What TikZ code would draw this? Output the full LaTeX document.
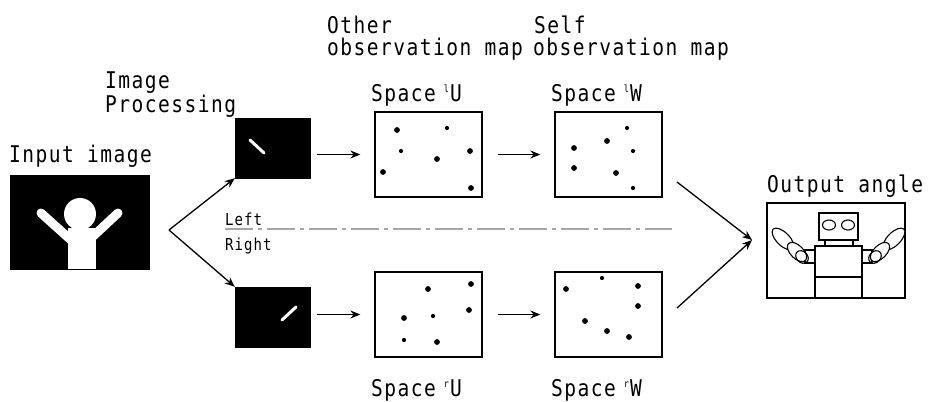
\documentclass[tikz,border=0pt]{standalone}
\usepackage{fontspec}
\setmainfont{DejaVu Sans Mono}[FakeStretch=0.85, LetterSpace=6.4]
\usetikzlibrary{arrows.meta}
\begin{document}
\begin{tikzpicture}[x=1pt,y=-1pt,
  lbl/.style={anchor=base west, inner sep=0pt, font=\fontsize{23}{26}\selectfont},
  tag/.style={anchor=base west, inner sep=0pt, font=\fontsize{16.5}{18}\selectfont},
  frame/.style={draw, line width=1.3pt, inner sep=0pt, minimum width=107pt, minimum height=85pt},
  blackbox/.style={fill=black, draw=black, inner sep=0pt},
  flow/.style={line width=1.3pt, -{Stealth[length=10pt,width=8pt]}},
  part/.style={draw, line width=1.1pt, fill=white},
]
\newcommand{\spacelabel}[2]{Space\hspace{8pt}\raisebox{9pt}{\fontsize{10}{10}\selectfont #1}\hspace{1pt}#2}
\useasboundingbox (0,0) rectangle (930,402);

% --- input image with the person silhouette
\node[blackbox, minimum width=139pt, minimum height=94pt] (input) at (79.5,222) {};
\draw[white, line width=9pt, line cap=round] (41,213) -- (72,241);
\draw[white, line width=9pt, line cap=round] (118,213) -- (88,241);
\fill[white] (68,228) rectangle (96,268.5);
\fill[white] (80,214) circle (16pt);
\node[lbl] (inlbl) at (9,162) {Input image};

% --- image processing results
\node[blackbox, minimum width=75pt, minimum height=60pt] (procL) at (272.5,148) {};
\node[blackbox, minimum width=75pt, minimum height=60pt] (procR) at (272.5,317) {};
\draw[white, line width=3pt, line cap=round] (250,140) -- (264,153);
\draw[white, line width=3pt, line cap=round] (282,320) -- (296,307);
\node[lbl] (imgA) at (105,88) {Image};
\node[lbl] (imgB) at (105,112) {Processing};

% --- fork from the input image
\coordinate (fork) at (169,230);
\draw[flow] (fork) -- (procL.south west);
\draw[flow] (fork) -- (procR.north west);

% --- observation maps
\node[frame] (uU) at (428.5,154.5) {};
\node[frame] (uW) at (608.5,154.5) {};
\node[frame] (lU) at (428.5,314.5) {};
\node[frame] (lW) at (608.5,314.5) {};

\draw[flow] ([xshift=7pt]procL.east |- uU.west) -- ([xshift=-14pt]uU.west);
\draw[flow] ([xshift=7pt]procR.east |- lU.west) -- ([xshift=-14pt]lU.west);
\draw[flow] ([xshift=15pt]uU.east) -- ([xshift=-14pt]uW.west);
\draw[flow] ([xshift=15pt]lU.east) -- ([xshift=-14pt]lW.west);

% points in the maps
\foreach \p in {(397,130),(437,159),(470,151),(383,172),(471,188),
                (607,141),(574,148),(574,168),(616,173),
                (428,289),(471,284),(404,318),(469,310),(437,342),
                (566,289),(638,286),(638,306),(585,321),(607,331),(629,337)}
  \fill \p circle (2.9pt);
\foreach \p in {(447,128),(401,151),(627,128),(633,151),(633,188),
                (433,316),(404,340),(602,278)}
  \fill \p circle (2.1pt);

\node[lbl] (othA) at (327,33) {Other};
\node[lbl] (othB) at (327,55) {observation map};
\node[lbl] (selA) at (534,33) {Self};
\node[lbl] (selB) at (533,55) {observation map};

\node[lbl] (sUl) at (371,101) {\spacelabel{l}{U}};
\node[lbl] (sWl) at (551,101) {\spacelabel{l}{W}};
\node[lbl] (sUr) at (371,396) {\spacelabel{r}{U}};
\node[lbl] (sWr) at (551,396) {\spacelabel{r}{W}};

% --- left / right divider
\coordinate (divA) at (225,229);
\coordinate (divB) at (672,229);
\draw[gray!70, line width=2pt, dash pattern=on 28pt off 5pt on 4pt off 5pt] (divA) -- (divB);
\node[tag] (left) at (225,225) {Left};
\node[tag] (right) at (225,250) {Right};

% --- output angle
\node[draw, line width=1.3pt, inner sep=0pt, minimum width=138pt, minimum height=95pt] (out) at (836,250.5) {};
\node[lbl] (outlbl) at (767,192) {Output angle};
\coordinate (conv) at (752,240);
\coordinate (fromU) at (677,182);
\coordinate (fromL) at (677,308);
\draw[flow] (fromU) -- (conv);
\draw[flow] (fromL) -- (conv);

% robot inside the output frame
\begin{scope}[line width=1.1pt]
  \draw (805,250) rectangle (815,263);
  \draw (862,250) rectangle (872,263);
  \draw (815,246) rectangle (862,298);
  \draw (815,277) -- (862,277);
  \draw (825,240) rectangle (853,246);
  \draw (819,213) rectangle (858,240);
  \draw (829,225) ellipse [x radius=6.5pt, y radius=5pt];
  \draw (848,225) ellipse [x radius=6.5pt, y radius=5pt];
  % left arm links
  \draw[part, rotate around={-45:(783,239)}] (783,239) ellipse [x radius=14pt, y radius=6.5pt];
  \draw[part, rotate around={-45:(797,252)}] (797,252) ellipse [x radius=12pt, y radius=6.5pt];
  \draw[rotate around={-45:(802,257)}] (802,257) ellipse [x radius=7pt, y radius=5.5pt];
  % right arm links
  \draw[part, rotate around={45:(894,239)}] (894,239) ellipse [x radius=14pt, y radius=6.5pt];
  \draw[part, rotate around={45:(880,252)}] (880,252) ellipse [x radius=12pt, y radius=6.5pt];
  \draw[rotate around={45:(875,257)}] (875,257) ellipse [x radius=7pt, y radius=5.5pt];
\end{scope}
\end{tikzpicture}
\end{document}
